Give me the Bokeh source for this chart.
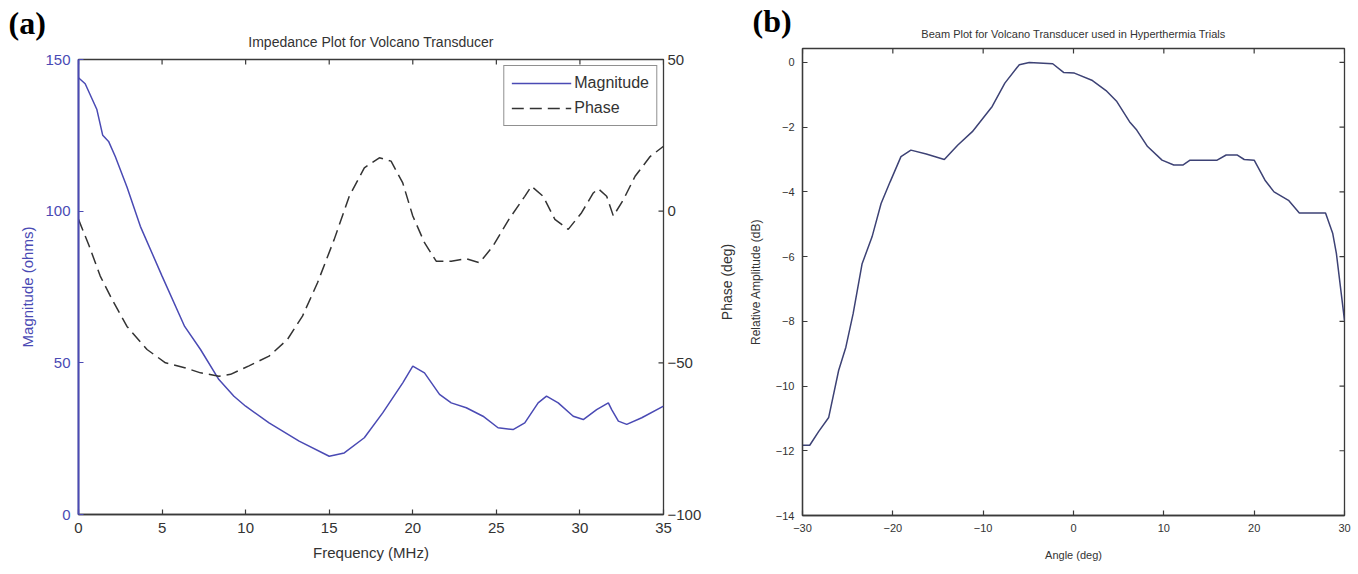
import math
from bokeh.plotting import figure
from bokeh.models import Range1d, LinearAxis, FixedTicker, Title
from bokeh.layouts import row
from bokeh.embed import file_html
from bokeh.resources import INLINE

# ---------------- data: panel (a) impedance ----------------
freq_mag = [0.0, 0.4, 1.1, 1.45, 1.8, 2.2, 2.9, 3.7, 5.0, 6.35, 7.3, 8.4, 9.3, 10.0,
            11.4, 13.2, 15.0, 15.9, 17.1, 18.2, 19.4, 20.0, 20.7, 21.6, 22.3, 23.2,
            24.2, 25.1, 26.0, 26.7, 27.5, 28.0, 28.7, 29.6, 30.2, 31.0, 31.7, 31.9,
            32.3, 32.8, 33.7, 35.0]
magnitude = [144, 142, 133.5, 125, 123, 118, 108, 95, 78.6, 62, 54.4, 44.5, 39, 35.7,
             30.2, 24.2, 19.2, 20.3, 25.3, 33.5, 43.4, 48.9, 46.7, 39.6, 36.8, 35.2,
             32.4, 28.6, 28.0, 30.2, 36.8, 39.0, 36.8, 32.4, 31.3, 34.6, 36.8, 34.6,
             30.8, 29.7, 31.9, 35.7]

freq_phase = [0.0, 0.64, 1.3, 2.0, 2.9, 4.1, 5.2, 6.35, 7.3, 8.4, 9.1, 10.2, 11.4,
              12.5, 13.4, 14.3, 15.3, 16.2, 17.1, 18.0, 18.7, 19.4, 20.0, 20.7, 21.4,
              22.3, 23.2, 24.0, 24.8, 25.75, 26.7, 27.1, 27.8, 28.5, 29.3, 30.1, 30.8,
              31.1, 31.6, 32.0, 32.6, 33.3, 34.2, 35.0]
phase = [-2.7, -11.5, -21.4, -29, -38, -45.6, -50, -51.6, -53.3, -54.4, -53.8, -51,
         -47.8, -42.3, -34.6, -23.6, -9.3, 4.9, 14.3, 17.6, 16.5, 9.3, -1.6, -10.4,
         -16.5, -16.5, -15.7, -17, -11.5, -2.7, 4.9, 8.2, 4.9, -2.7, -6, -0.5, 6,
         7.4, 4.9, -1.6, 3.8, 11.5, 18, 21.4]

freq_ticks = [0, 5, 10, 15, 20, 25, 30, 35]
mag_ticks = [0, 50, 100, 150]
phase_ticks = [-100, -50, 0, 50]

# ---------------- data: panel (b) beam plot ----------------
angle = [-30, -29.2, -28.2, -27.1, -26.0, -25.2, -24.4, -23.4, -22.3, -21.3, -20.3,
         -19.1, -18.0, -16.3, -14.3, -12.8, -11.2, -9.0, -7.6, -6.0, -4.9, -2.3,
         -1.1, 0.1, 2.1, 3.6, 4.8, 6.2, 7.0, 8.2, 9.8, 11.1, 12.1, 12.9, 15.9, 16.9,
         18.1, 18.9, 20.0, 21.2, 22.2, 23.8, 25.0, 27.9, 28.7, 29.1, 30.0]
rel_amp = [-11.83, -11.83, -11.4, -10.97, -9.52, -8.8, -7.77, -6.22, -5.39, -4.36,
           -3.69, -2.91, -2.71, -2.83, -3.0, -2.55, -2.14, -1.36, -0.64, -0.07, 0.0,
           -0.04, -0.31, -0.33, -0.56, -0.87, -1.21, -1.83, -2.09, -2.6, -3.02, -3.17,
           -3.17, -3.02, -3.02, -2.86, -2.86, -3.0, -3.02, -3.64, -4.0, -4.26, -4.65,
           -4.65, -5.29, -5.9, -7.97]

angle_ticks = [-30, -20, -10, 0, 10, 20, 30]
amp_ticks = [-14, -12, -10, -8, -6, -4, -2, 0]

FONT = "Liberation Sans"
BLUE = "#4a4ab4"
DARK = "#333333"
FRAME = "#3a3a3a"


def style_axis(ax, size, color=DARK, line_color=FRAME, standoff=8):
    ax.major_tick_in = 5
    ax.major_tick_out = 0
    ax.minor_tick_line_color = None
    ax.major_tick_line_color = line_color
    ax.major_tick_line_width = 1.2
    ax.axis_line_color = line_color
    ax.axis_line_width = 1.3
    ax.major_label_text_font = FONT
    ax.major_label_text_color = color
    ax.major_label_text_font_size = size
    ax.major_label_standoff = standoff
    ax.axis_label_text_font = FONT
    ax.axis_label_text_color = color
    ax.axis_label_text_font_style = "normal"
    ax.axis_label_text_font_size = size


def mirror_ticks(p, xticks, yticks, xr, yr, y_range_name="default"):
    # inward tick marks on the top and right frame edges (no labels)
    p.ray(x=xticks, y=[yr.end] * len(xticks), length=5, length_units="screen",
          angle=-90, angle_units="deg", line_color=FRAME, line_width=1.2,
          y_range_name=y_range_name)
    p.ray(x=[xr.end] * len(yticks), y=yticks, length=5, length_units="screen",
          angle=180, angle_units="deg", line_color=FRAME, line_width=1.2,
          y_range_name=y_range_name)


def panel_title(text, offset, standoff):
    return Title(text=text, align="left", offset=offset, text_font="Liberation Serif",
                 text_font_size="32px", text_font_style="bold", text_color="#000000",
                 standoff=standoff)


# ================= panel (a) =================
xr1 = Range1d(0, 35)
yr1 = Range1d(0, 150)
p1 = figure(width=704, height=574, x_range=xr1, y_range=yr1,
            output_backend="svg", toolbar_location=None,
            min_border_left=78, min_border_right=39, min_border_bottom=60,
            min_border_top=59)
p1.extra_y_ranges = {"phase": Range1d(-100, 50)}
p1.outline_line_color = FRAME
p1.outline_line_width = 1.3
p1.xgrid.visible = False
p1.ygrid.visible = False

mirror_ticks(p1, freq_ticks, phase_ticks, xr1, p1.extra_y_ranges["phase"], "phase")

p1.line(freq_mag, magnitude, line_color=BLUE, line_width=1.5, legend_label="Magnitude")
p1.line(freq_phase, phase, y_range_name="phase", line_color="#333333", line_width=1.5,
        line_dash="12 6", legend_label="Phase")

xb = p1.xaxis[0]
xb.ticker = FixedTicker(ticks=freq_ticks)
xb.axis_label = "Frequency (MHz)"
style_axis(xb, "15px")
xb.axis_label_standoff = 8

yl = p1.yaxis[0]
yl.ticker = FixedTicker(ticks=mag_ticks)
yl.axis_label = "Magnitude (ohms)"
style_axis(yl, "15px", color=BLUE, line_color=BLUE)
yl.axis_line_width = 2
yl.axis_label_standoff = 6

yr = LinearAxis(y_range_name="phase", ticker=FixedTicker(ticks=phase_ticks))
style_axis(yr, "15px", standoff=4)
yr.major_tick_line_color = None
yr.axis_line_color = None
p1.add_layout(yr, "right")

p1.add_layout(Title(text="Impedance Plot for Volcano Transducer", align="center",
                    text_font=FONT, text_font_size="14px", text_font_style="normal",
                    text_color=DARK, standoff=20), "above")
p1.add_layout(panel_title("(a)", -70, -38.5), "above")

lg = p1.legend[0]
lg.location = "top_right"
lg.margin = 6
lg.border_line_color = "#222222"
lg.border_line_width = 1.2
lg.label_text_font = FONT
lg.label_text_font_size = "16px"
lg.label_text_color = DARK
lg.glyph_width = 60
lg.padding = 7
lg.spacing = 5
lg.label_standoff = 3
lg.background_fill_alpha = 1.0

# ================= panel (b) =================
xr2 = Range1d(-30, 30)
yr2 = Range1d(-14, 0.43)
p2 = figure(width=654, height=574, x_range=xr2, y_range=yr2,
            output_backend="svg", toolbar_location=None,
            min_border_left=98, min_border_right=14, min_border_bottom=59,
            min_border_top=48)
p2.outline_line_color = FRAME
p2.outline_line_width = 1.3
p2.xgrid.visible = False
p2.ygrid.visible = False

mirror_ticks(p2, angle_ticks, amp_ticks, xr2, yr2)

p2.line(angle, rel_amp, line_color="#3d4275", line_width=1.5)

xb2 = p2.xaxis[0]
xb2.ticker = FixedTicker(ticks=angle_ticks)
xb2.axis_label = "Angle (deg)"
style_axis(xb2, "11px")
xb2.axis_label_standoff = 14

yl2 = p2.yaxis[0]
yl2.ticker = FixedTicker(ticks=amp_ticks)
yl2.axis_label = "Relative Amplitude (dB)"
style_axis(yl2, "11px")
yl2.axis_label_text_font_size = "12px"
yl2.axis_label_standoff = 10

# label of the phase (right-hand) axis of panel (a), drawn reading upwards
p2.add_layout(Title(text="Phase (deg)", align="center", text_font=FONT,
                    text_font_size="14px", text_font_style="normal", text_color=DARK,
                    standoff=22), "left")

p2.add_layout(Title(text="Beam Plot for Volcano Transducer used in Hyperthermia Trials",
                    align="center", text_font=FONT, text_font_size="11px",
                    text_font_style="normal", text_color=DARK, standoff=16.5), "above")
p2.add_layout(panel_title("(b)", -50, -43), "above")

for p in (p1, p2):
    if "frame_align" in p.properties():
        p.frame_align = False

layout = row(p1, p2)
open("out.html", "w").write(file_html(layout, INLINE))
